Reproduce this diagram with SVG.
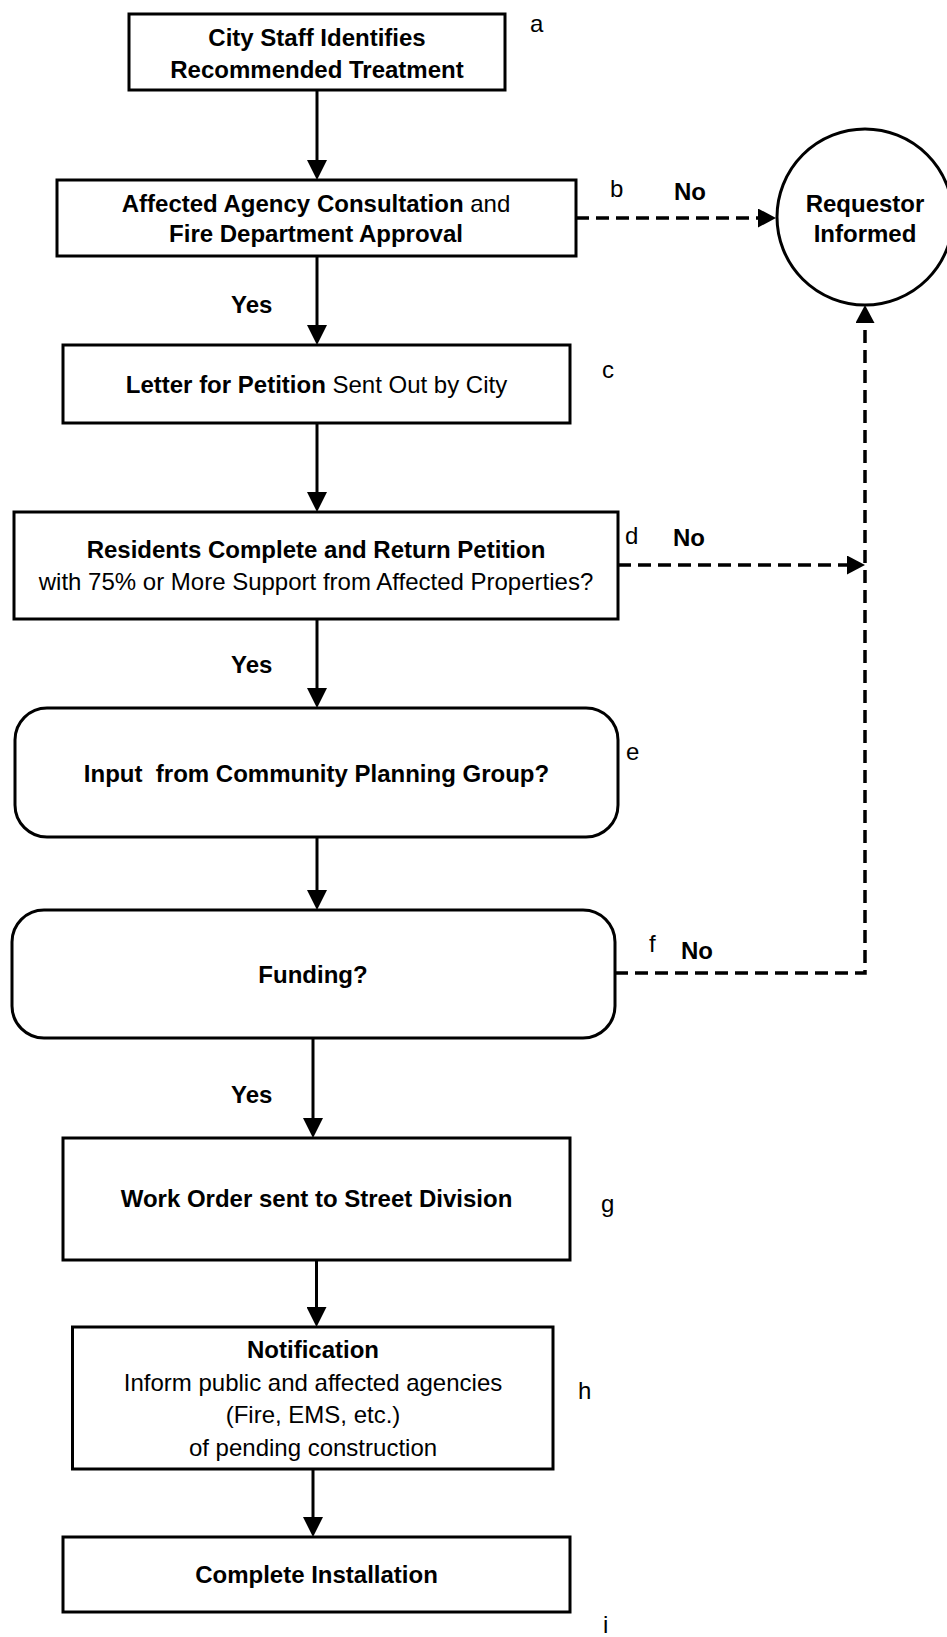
<svg xmlns="http://www.w3.org/2000/svg" width="947" height="1637" viewBox="0 0 947 1637">
<style>
.box{fill:#fff;stroke:#000;stroke-width:3}
.t{font-family:"Liberation Sans",Arial,Helvetica,sans-serif;font-size:24px;fill:#000}
.b{font-weight:bold}
.m{text-anchor:middle}
.n{font-weight:normal}
.ln{fill:none;stroke:#000;stroke-width:3}
.dash{fill:none;stroke:#000;stroke-width:3.5;stroke-dasharray:13 7}
</style>
<defs>
<marker id="ah" viewBox="0 0 20 20" refX="10" refY="10" markerWidth="20" markerHeight="20" markerUnits="userSpaceOnUse" orient="auto">
<path d="M0,0 L20,10 L0,20 Z" fill="#000"/>
</marker>
<marker id="ahd" viewBox="0 0 18 19" refX="8" refY="9.5" markerWidth="18" markerHeight="19" markerUnits="userSpaceOnUse" orient="auto">
<path d="M0,0 L18,9.5 L0,19 Z" fill="#000"/>
</marker>
</defs>
<rect width="947" height="1637" fill="#fff"/>

<g id="connectors">
<path class="ln" d="M317,90 V170" marker-end="url(#ah)"/>
<path class="ln" d="M317,256 V335" marker-end="url(#ah)"/>
<path class="ln" d="M317,423 V502" marker-end="url(#ah)"/>
<path class="ln" d="M317,619 V698" marker-end="url(#ah)"/>
<path class="ln" d="M317,837 V900" marker-end="url(#ah)"/>
<path class="ln" d="M313,1038 V1128" marker-end="url(#ah)"/>
<path class="ln" d="M316.5,1260 V1317" marker-end="url(#ah)"/>
<path class="ln" d="M313,1469 V1527" marker-end="url(#ah)"/>
<path class="dash" d="M576,218 H766" marker-end="url(#ahd)"/>
<path class="dash" d="M618,565 H855" marker-end="url(#ahd)"/>
<path class="dash" d="M615,973 H865 V315" marker-end="url(#ahd)"/>
<text class="t b" x="231" y="313">Yes</text>
<text class="t b" x="231" y="673">Yes</text>
<text class="t b" x="231" y="1103">Yes</text>
<text class="t b" x="674" y="200">No</text>
<text class="t b" x="673" y="546">No</text>
<text class="t b" x="681" y="959">No</text>
</g>

<g id="node-a">
<rect class="box" x="129" y="14" width="376" height="76"/>
<text class="t b m" x="317" y="46">City Staff Identifies</text>
<text class="t b m" x="317" y="78">Recommended Treatment</text>
<text class="t" x="530" y="32">a</text>
</g>

<g id="node-b">
<rect class="box" x="57" y="180" width="519" height="76"/>
<text class="t b m" x="316" y="212">Affected Agency Consultation<tspan class="n"> and</tspan></text>
<text class="t b m" x="316" y="242">Fire Department Approval</text>
<text class="t" x="610" y="197">b</text>
</g>

<g id="node-requestor">
<circle class="box" cx="865" cy="217" r="88"/>
<text class="t b m" x="865" y="212">Requestor</text>
<text class="t b m" x="865" y="242">Informed</text>
</g>

<g id="node-c">
<rect class="box" x="63" y="345" width="507" height="78"/>
<text class="t b m" x="316.5" y="393">Letter for Petition<tspan class="n"> Sent Out by City</tspan></text>
<text class="t" x="602" y="378">c</text>
</g>

<g id="node-d">
<rect class="box" x="14" y="512" width="604" height="107"/>
<text class="t b m" x="316" y="558">Residents Complete and Return Petition</text>
<text class="t m" x="316" y="590">with 75% or More Support from Affected Properties?</text>
<text class="t" x="625" y="544">d</text>
</g>

<g id="node-e">
<rect class="box" x="15" y="708" width="603" height="129" rx="32" ry="32"/>
<text class="t b m" x="316.5" y="782" xml:space="preserve">Input  from Community Planning Group?</text>
<text class="t" x="626" y="760">e</text>
</g>

<g id="node-f">
<rect class="box" x="12" y="910" width="603" height="128" rx="32" ry="32"/>
<text class="t b m" x="313" y="983">Funding?</text>
<text class="t" x="649" y="952">f</text>
</g>

<g id="node-g">
<rect class="box" x="63" y="1138" width="507" height="122"/>
<text class="t b m" x="316.5" y="1207">Work Order sent to Street Division</text>
<text class="t" x="601" y="1212">g</text>
</g>

<g id="node-h">
<rect class="box" x="72.5" y="1327" width="480.5" height="142"/>
<text class="t b m" x="313" y="1358">Notification</text>
<text class="t m" x="313" y="1391">Inform public and affected agencies</text>
<text class="t m" x="313" y="1423">(Fire, EMS, etc.)</text>
<text class="t m" x="313" y="1456">of pending construction</text>
<text class="t" x="578" y="1399">h</text>
</g>

<g id="node-i">
<rect class="box" x="63" y="1537" width="507" height="75"/>
<text class="t b m" x="316.5" y="1583">Complete Installation</text>
<text class="t" x="603" y="1633">i</text>
</g>
</svg>
